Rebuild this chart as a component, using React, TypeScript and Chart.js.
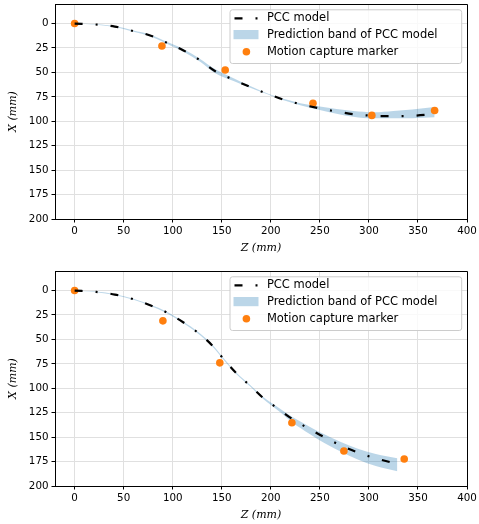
import React, { useEffect, useRef } from "react";
import { Chart, registerables } from "chart.js";

Chart.register(...registerables);

// ---------- data ----------
const xTickValues = [0, 50, 100, 150, 200, 250, 300, 350, 400];
const yTickValues = [0, 25, 50, 75, 100, 125, 150, 175, 200];

const legendLabels = ["PCC model", "Prediction band of PCC model", "Motion capture marker"];
const xAxisTitle = "Z (mm)";
const yAxisTitle = "X (mm)";

// top panel
const topModelZ = [0, 22, 41, 60, 77, 94, 111, 128, 143, 162, 179, 196, 213, 230, 250, 267, 284, 305, 325, 344, 367];
const topModelX = [0, 1, 3.1, 7.8, 12.2, 19.7, 27.5, 37.7, 48.6, 57.4, 64.9, 71.7, 77.8, 82.5, 86.9, 90, 92.7, 94.4, 94.8, 94.4, 92.7];
const topBandLow = [0, 0.7, 2.6, 7.2, 11.4, 18.7, 26.2, 36.2, 46.6, 55.9, 64.0, 71.2, 77.0, 81.5, 85.0, 87.5, 89.5, 90.8, 89.5, 88.0, 85.5];
const topBandHigh = [0, 1.3, 3.6, 8.4, 13.0, 20.7, 28.8, 39.2, 50.6, 58.9, 65.8, 72.2, 78.6, 83.5, 88.5, 92.2, 95.3, 97.0, 97.0, 96.8, 96.0];
const topMarkerZ = [0, 89, 153.5, 243, 303, 367];
const topMarkerX = [0, 23, 47.5, 81.5, 94, 89];

// bottom panel
const botModelZ = [0, 22, 41, 60, 77, 94, 111, 126, 140, 152, 165, 179, 192, 208, 222, 240, 255, 272, 288, 307, 329];
const botModelX = [0, 1.4, 4.1, 8.9, 15, 22.5, 32.7, 43.3, 55.9, 70.2, 84.8, 97.4, 109.7, 121.3, 131.5, 142, 150.3, 158.8, 165.5, 171.7, 177.5];
const botBandLow = [0, 1.1, 3.7, 8.4, 14.4, 21.8, 32.0, 42.5, 55.0, 69.3, 84.0, 96.6, 108.8, 120.0, 129.5, 139.5, 147.3, 155.3, 161.5, 167.2, 171.5];
const botBandHigh = [0, 1.7, 4.5, 9.4, 15.6, 23.2, 33.4, 44.1, 56.8, 71.1, 85.6, 98.2, 110.8, 123.3, 135.0, 147.0, 156.3, 165.3, 172.5, 179.5, 185.0];
const botMarkerZ = [0, 90, 148, 221.5, 274.5, 336];
const botMarkerX = [0, 31, 74, 135.3, 164.2, 172.4];

// ---------- styles ----------
const BAND = "rgba(31,119,180,0.3)";
const ORANGE = "#ff7f0e";
const GRID = "#e0e0e0";
const DASH = [8, 13, 2, 13];
const TICK_FONT = { family: "DejaVu Sans", size: 10.3 };
const TITLE_FONT = { family: "DejaVu Serif", style: "italic" as const, size: 11 };
const LEGEND_FONT = "11.5px 'DejaVu Sans'";

const W = 479;

function alignPx(v: number) {
  return Math.round(v - 0.5) + 0.5;
}

const framePlugin = {
  id: "frame",
  afterDatasetsDraw(chart: any) {
    const { ctx, chartArea: a } = chart;
    ctx.save();
    ctx.strokeStyle = "#000";
    ctx.lineWidth = 1;
    ctx.beginPath();
    const t = alignPx(a.top);
    const r = alignPx(a.right);
    const l = alignPx(a.left);
    const b = alignPx(a.bottom);
    ctx.moveTo(l, t);
    ctx.lineTo(r, t);
    ctx.lineTo(r, b);
    ctx.stroke();
    ctx.restore();
  },
};

const legendPlugin = {
  id: "mplLegend",
  afterDraw(chart: any) {
    const { ctx, chartArea: a } = chart;
    const w = 231.7;
    const h = 53.7;
    const right = a.right - 5.8;
    const top = a.top + 5.3;
    const left = right - w;
    ctx.save();
    ctx.beginPath();
    ctx.roundRect(left + 0.5, top + 0.5, w, h, 2.5);
    ctx.fillStyle = "rgba(255,255,255,0.8)";
    ctx.fill();
    ctx.strokeStyle = "#cccccc";
    ctx.lineWidth = 1;
    ctx.stroke();

    const rows = [top + 9, top + 25.3, top + 42.4];
    const hx0 = left + 4;
    const hx1 = left + 29;
    // line handle
    ctx.beginPath();
    ctx.setLineDash(DASH);
    ctx.strokeStyle = "#000";
    ctx.lineWidth = 2.2;
    ctx.moveTo(hx0 + 1, rows[0]);
    ctx.lineTo(hx1, rows[0]);
    ctx.stroke();
    ctx.setLineDash([]);
    // band handle
    ctx.fillStyle = BAND;
    ctx.fillRect(hx0, rows[1] - 4.6, hx1 - hx0, 9.2);
    // marker handle
    ctx.beginPath();
    ctx.fillStyle = ORANGE;
    ctx.arc((hx0 + hx1) / 2 + 0.4, rows[2], 3.8, 0, Math.PI * 2);
    ctx.fill();

    ctx.fillStyle = "#000";
    ctx.font = LEGEND_FONT;
    ctx.textBaseline = "middle";
    ctx.textAlign = "left";
    const tx = left + 37.4;
    legendLabels.forEach((s, i) => ctx.fillText(s, tx, rows[i]));
    ctx.restore();
  },
};

function pts(zs: number[], xs: number[]) {
  return zs.map((z, i) => ({ x: z, y: xs[i] }));
}

function makeChart(
  canvas: HTMLCanvasElement,
  H: number,
  modelZ: number[],
  modelX: number[],
  bandLow: number[],
  bandHigh: number[],
  markerZ: number[],
  markerX: number[]
) {
  const xTitlePadBottom = H - 248 - 6.6;
  return new Chart(canvas, {
    type: "scatter",
    data: {
      datasets: [
        {
          label: legendLabels[0],
          data: pts(modelZ, modelX),
          showLine: true,
          borderColor: "#000",
          borderWidth: 2.2,
          borderDash: DASH,
          pointRadius: 0,
          cubicInterpolationMode: "monotone",
          fill: false,
        } as any,
        {
          label: legendLabels[2],
          data: pts(markerZ, markerX),
          showLine: false,
          pointRadius: 3.8,
          pointBackgroundColor: ORANGE,
          pointBorderWidth: 0,
          pointBorderColor: ORANGE,
        },
        {
          label: legendLabels[1],
          data: pts(modelZ, bandLow),
          showLine: true,
          borderWidth: 0,
          borderColor: "rgba(0,0,0,0)",
          pointRadius: 0,
          backgroundColor: BAND,
          fill: "+1",
          cubicInterpolationMode: "monotone",
        } as any,
        {
          label: "band upper",
          data: pts(modelZ, bandHigh),
          showLine: true,
          borderWidth: 0,
          borderColor: "rgba(0,0,0,0)",
          pointRadius: 0,
          fill: false,
          cubicInterpolationMode: "monotone",
        } as any,
      ],
    },
    options: {
      responsive: false,
      animation: false,
      devicePixelRatio: 1,
      events: [],
      layout: { padding: { top: 4, right: 12, left: 0, bottom: 0 } },
      plugins: {
        legend: { display: false },
        tooltip: { enabled: false },
      },
      scales: {
        x: {
          type: "linear",
          min: -20,
          max: 400,
          afterBuildTicks: (s: any) => {
            s.ticks = xTickValues.map((v) => ({ value: v }));
          },
          afterFit: (s: any) => {
            s.height = H - 219;
            s.paddingLeft = 0;
            s.paddingRight = 0;
          },
          grid: { color: GRID, lineWidth: 1, tickLength: 3.5, tickColor: "#000", tickWidth: 1 },
          border: { color: "#000", width: 1 },
          ticks: { color: "#000", font: TICK_FONT, padding: 3, maxRotation: 0, autoSkip: false },
          title: {
            display: true,
            text: xAxisTitle,
            color: "#000",
            font: TITLE_FONT,
            padding: { top: 0, bottom: xTitlePadBottom },
          },
        },
        y: {
          type: "linear",
          reverse: true,
          min: -20,
          max: 200,
          afterBuildTicks: (s: any) => {
            s.ticks = yTickValues.map((v) => ({ value: v }));
          },
          afterFit: (s: any) => {
            s.width = 55;
            s.paddingTop = 0;
            s.paddingBottom = 0;
          },
          grid: { color: GRID, lineWidth: 1, tickLength: 3.5, tickColor: "#000", tickWidth: 1 },
          border: { color: "#000", width: 1 },
          ticks: { color: "#000", font: TICK_FONT, padding: 3, autoSkip: false },
          title: {
            display: true,
            text: yAxisTitle,
            color: "#000",
            font: TITLE_FONT,
            padding: { top: 7, bottom: 0 },
          },
        },
      },
    } as any,
    plugins: [framePlugin, legendPlugin],
  });
}

export default function App() {
  const topRef = useRef<HTMLCanvasElement>(null);
  const botRef = useRef<HTMLCanvasElement>(null);

  useEffect(() => {
    const c1 = makeChart(topRef.current!, 262, topModelZ, topModelX, topBandLow, topBandHigh, topMarkerZ, topMarkerX);
    const c2 = makeChart(botRef.current!, 257, botModelZ, botModelX, botBandLow, botBandHigh, botMarkerZ, botMarkerX);
    return () => {
      c1.destroy();
      c2.destroy();
    };
  }, []);

  return (
    <div style={{ position: "absolute", left: 0, top: 0, width: W, height: 524, background: "#fff", overflow: "hidden" }}>
      <canvas ref={topRef} width={W} height={262} style={{ position: "absolute", left: 0, top: 0, width: W, height: 262 }} />
      <canvas ref={botRef} width={W} height={257} style={{ position: "absolute", left: 0, top: 267, width: W, height: 257 }} />
    </div>
  );
}
